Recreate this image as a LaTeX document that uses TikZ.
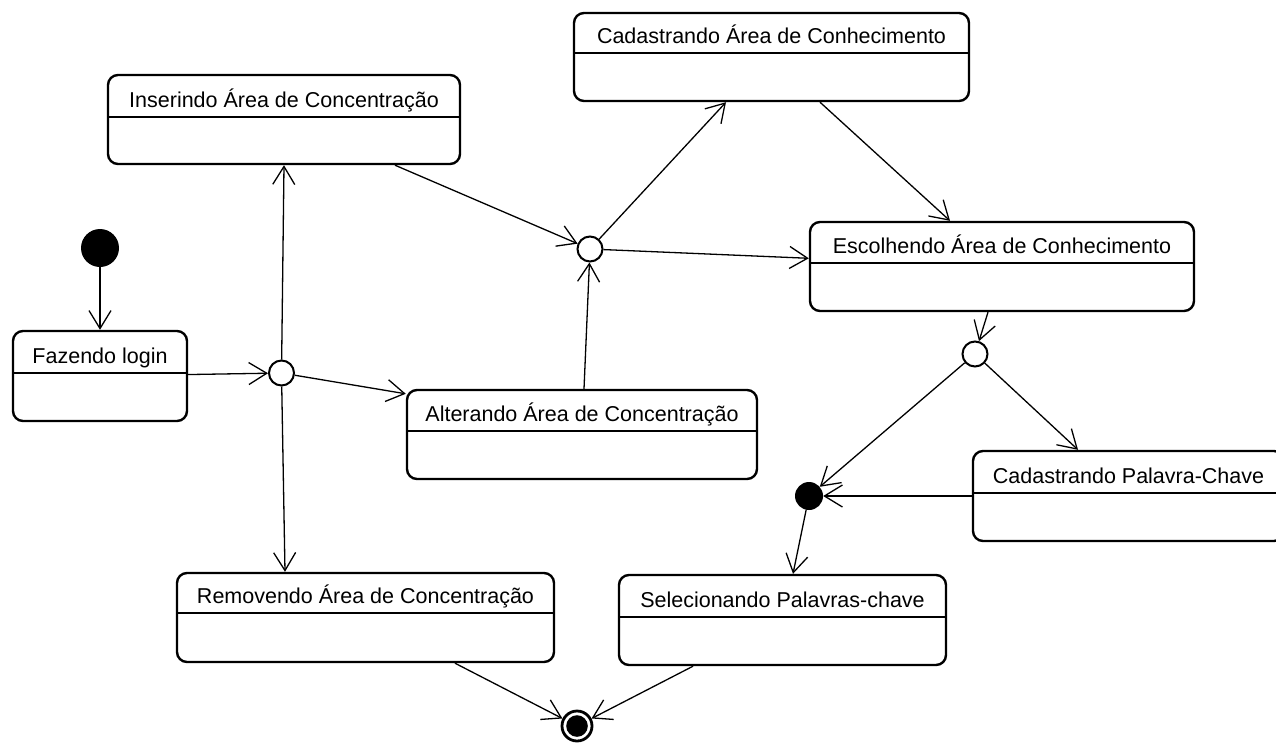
\documentclass[tikz,border=0pt]{standalone}
\usepackage{fontspec}
\setmainfont{Liberation Sans}
\usetikzlibrary{arrows.meta}

\tikzset{
  statebox/.style={draw, line width=2.4pt, rounded corners=10pt, inner sep=0pt, fill=white},
  divider/.style={line width=1.4pt},
  stname/.style={inner sep=0pt, font=\fontsize{21.5}{26}\selectfont},
  choice/.style={circle, draw, line width=2pt, fill=white, minimum size=25pt, inner sep=0pt},
  initstate/.style={circle, fill=black, minimum size=38pt, inner sep=0pt},
  junction/.style={circle, fill=black, minimum size=28pt, inner sep=0pt},
  finalstate/.style={circle, draw, line width=2.8pt, fill=white, minimum size=30pt, inner sep=0pt},
  trans/.style={line width=1.3pt, -{Straight Barb[length=18pt, width=22pt, line width=1.3pt]}},
}

% name, left, top, right, bottom, divider, title
\newcommand\umlstate[7]{%
  \node[statebox, minimum width={#4pt-#2pt}, minimum height={#5pt-#3pt}]
    (#1) at ({(#2+#4)/2},{(#3+#5)/2}) {};
  \draw[divider] (#2,#6) -- (#4,#6);
  \node[stname, anchor=base] (#1-t) at ({(#2+#4)/2},#6-10) {#7};
}

\begin{document}
\begin{tikzpicture}[x=1pt, y=-1pt]
  \useasboundingbox (0,0) rectangle (1276,744);
  \clip (0,0) rectangle (1276,744);

  % states
  \umlstate{cadA}{574}{13}{969}{101}{53}{Cadastrando Área de Conhecimento}
  \umlstate{insA}{108}{75}{460}{164}{117}{Inserindo Área de Concentração}
  \umlstate{escA}{810}{222}{1194}{311}{263}{Escolhendo Área de Conhecimento}
  \umlstate{login}{13}{331}{187}{421}{373}{Fazendo login}
  \umlstate{altA}{407}{390}{757}{479}{431}{Alterando Área de Concentração}
  \umlstate{cadP}{973}{451}{1284}{541}{493}{Cadastrando Palavra-Chave}
  \umlstate{remA}{177}{573}{554}{662}{613}{Removendo Área de Concentração}
  \umlstate{selP}{619}{575}{946}{665}{617}{Selecionando Palavras-chave}

  % pseudo states
  \node[initstate] (init) at (100,248) {};
  \node[choice] (ch1) at (281.5,373) {};
  \node[choice] (ch2) at (590,249) {};
  \node[choice] (ch3) at (975,354) {};
  \node[junction] (junc) at (809,496) {};
  \node[finalstate] (final) at (577,726) {};
  \fill (final.center) circle (10.8pt);

  % transitions
  \draw[trans] (init) -- (login);
  \draw[trans] (login) -- (ch1);
  \draw[trans] (ch1) -- (insA.south);
  \draw[trans] (ch1) -- ([xshift=-80.5pt]remA.north);
  \draw[trans] (ch1) -- ([yshift=-5pt]altA.north west);
  \draw[trans] ([xshift=2pt]altA.north) -- (ch2);
  \draw[trans] ([xshift=111pt]insA.south) -- (ch2);
  \draw[trans] (ch2) -- ([xshift=-45.5pt]cadA.south);
  \draw[trans] (ch2) -- (escA);
  \draw[trans] ([xshift=48.5pt]cadA.south) -- ([xshift=-52pt]escA.north);
  \draw[trans] ([xshift=-14pt]escA.south) -- (ch3);
  \draw[trans] (ch3) -- (junc);
  \draw[trans] (ch3) -- ([xshift=-50.5pt]cadP.north);
  \draw[trans] (cadP) -- (junc);
  \draw[trans] (junc) -- ([xshift=10.5pt]selP.north);
  \draw[trans] ([xshift=89.5pt]remA.south) -- (final);
  \draw[trans] ([xshift=-89.5pt]selP.south) -- (final);
\end{tikzpicture}
\end{document}
